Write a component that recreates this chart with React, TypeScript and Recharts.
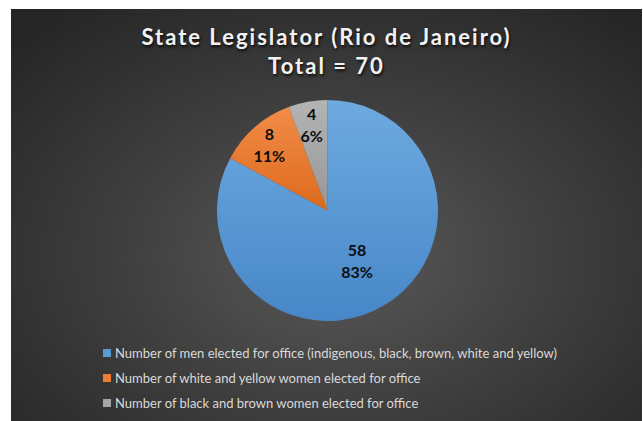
import { PieChart, Pie, Cell, Legend } from "recharts";

const categories = [
  "Number of men elected for office (indigenous, black, brown, white and yellow)",
  "Number of white and yellow women elected for office",
  "Number of black and brown women elected for office",
];
const counts = [58, 8, 4];
const percentLabels = ["83%", "11%", "6%"];
const titleLines = ["State Legislator (Rio de Janeiro)", "Total = 70"];

const colors = ["#5b9bd5", "#ed7d31", "#a5a5a5"];
const gradients = [
  ["#6eaae0", "#4787c8"],
  ["#f28c48", "#dd6a1c"],
  ["#b4b4b4", "#969696"],
];

const data = categories.map((name, i) => ({
  name,
  value: counts[i],
  pct: percentLabels[i],
}));

const W = 631;
const H = 412;
const RAD = Math.PI / 180;

function renderLabel(props: any) {
  const { cx, cy, outerRadius, midAngle, percent, index } = props;
  // small slices sit further out, like Excel's best-fit labels
  const r = percent < 0.2 ? outerRadius * 0.8 : outerRadius * 0.52;
  const x = cx + r * Math.cos(-midAngle * RAD);
  const y = cy + r * Math.sin(-midAngle * RAD);
  return (
    <text
      x={x}
      y={y}
      textAnchor="middle"
      fill="#0d0d0d"
      fontFamily="Lato, sans-serif"
      fontWeight="bold"
      fontSize={16}
    >
      <tspan x={x} dy={-4}>{counts[index]}</tspan>
      <tspan x={x} dy={22}>{percentLabels[index]}</tspan>
    </text>
  );
}

function LegendBox() {
  return (
    <ul style={{ listStyle: "none", margin: 0, padding: 0 }}>
      {categories.map((c, i) => (
        <li
          key={c}
          style={{
            height: 25,
            display: "flex",
            alignItems: "center",
            color: "#d9d9d9",
            fontSize: 13,
            fontFamily: "Lato, sans-serif",
            whiteSpace: "nowrap",
          }}
        >
          <span
            style={{
              width: 8,
              height: 8,
              background: colors[i],
              marginRight: 4,
              display: "inline-block",
            }}
          />
          {c}
        </li>
      ))}
    </ul>
  );
}

export default function App() {
  return (
    <div
      style={{
        position: "absolute",
        left: 11,
        top: 9,
        width: W,
        height: H,
        background:
          "radial-gradient(ellipse 70% 75% at 52% 60%, #595959 0%, #3c3c3c 55%, #262626 100%)",
      }}
    >
      <div
        style={{
          position: "absolute",
          left: 0,
          top: 13,
          width: W,
          textAlign: "center",
          color: "#f2f2f2",
          fontFamily: "Lato, sans-serif",
          fontWeight: "bold",
          fontSize: 22,
          lineHeight: "29px",
          letterSpacing: 2,
          textShadow: "1px 2px 3px rgba(0,0,0,0.8)",
        }}
      >
        {titleLines.map((t) => (
          <div key={t}>{t}</div>
        ))}
      </div>
      <PieChart
        width={W}
        height={H}
        margin={{ top: 0, right: 0, bottom: 0, left: 0 }}
        style={{ position: "absolute", left: 0, top: 0 }}
      >
        <defs>
          {gradients.map((g, i) => (
            <linearGradient key={i} id={`slice${i}`} x1="0" y1="0" x2="0" y2="1">
              <stop offset="0%" stopColor={g[0]} />
              <stop offset="100%" stopColor={g[1]} />
            </linearGradient>
          ))}
        </defs>
        <Pie
          data={data}
          dataKey="value"
          nameKey="name"
          cx={316.5}
          cy={201.5}
          outerRadius={110.5}
          startAngle={90}
          endAngle={-270}
          stroke="none"
          label={renderLabel}
          labelLine={false}
          isAnimationActive={false}
        >
          {data.map((d, i) => (
            <Cell key={d.name} fill={`url(#slice${i})`} />
          ))}
        </Pie>
        <Legend
          content={() => <LegendBox />}
          wrapperStyle={{ left: 92, top: 331, width: "auto" }}
        />
      </PieChart>
    </div>
  );
}
